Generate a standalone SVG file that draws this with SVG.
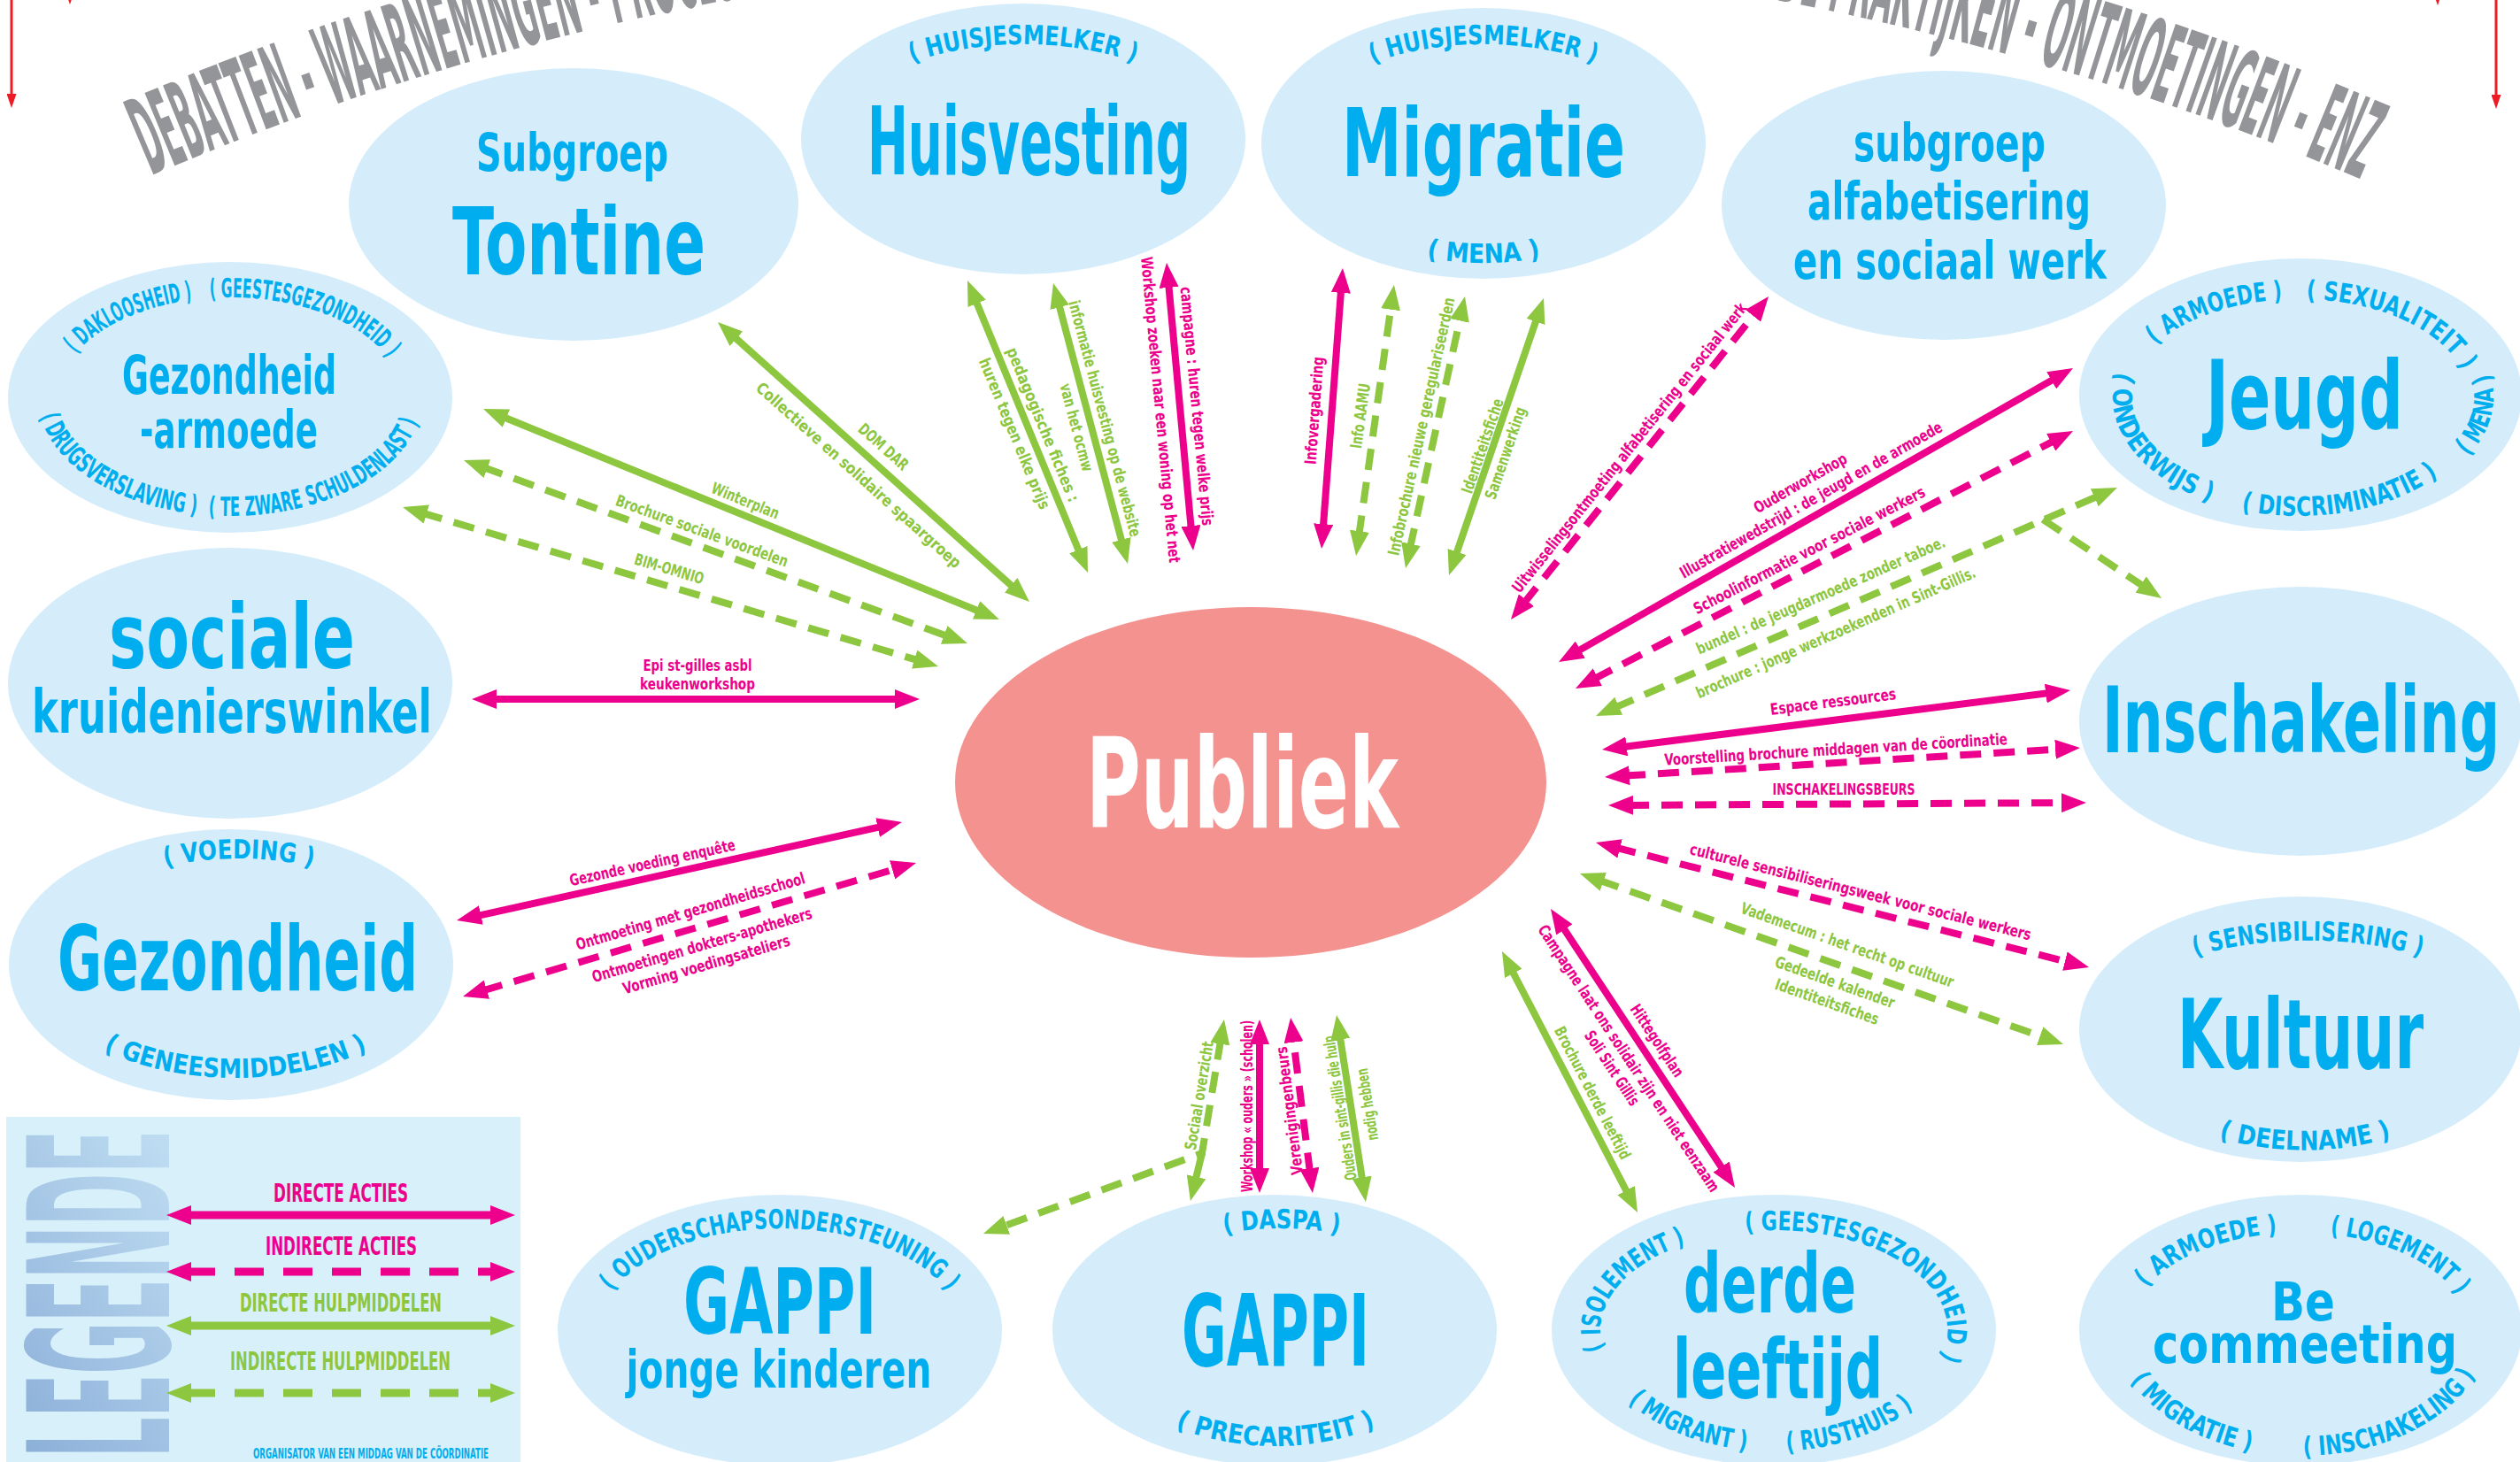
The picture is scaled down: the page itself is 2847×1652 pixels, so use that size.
<svg xmlns="http://www.w3.org/2000/svg" width="2847" height="1652" viewBox="0 0 2847 1652">
<style>
.nd{fill:#d5edfa}
.t{font-family:"Liberation Sans Narrow","DejaVu Sans Condensed","Liberation Sans",sans-serif;font-weight:bold}
.m{text-anchor:middle}
.cy{fill:#00aeef}
.rg{font-size:30px;fill:#00aeef}
.lm{fill:#ec008c;font-size:18px;text-anchor:middle}
.lg{fill:#8dc63f;font-size:18px;text-anchor:middle}
.am{stroke:#ec008c;stroke-width:8;fill:none;marker-start:url(#hM);marker-end:url(#hM)}
.ag{stroke:#8dc63f;stroke-width:8;fill:none;marker-start:url(#hG);marker-end:url(#hG)}
.d{stroke-dasharray:24 14}
.ar{stroke:#ed1c24;stroke-width:3;fill:none;marker-end:url(#hR)}
</style>
<defs>
<marker id="hM" markerUnits="userSpaceOnUse" viewBox="0 0 28 22" markerWidth="28" markerHeight="22" refX="6" refY="11" orient="auto-start-reverse"><path d="M0,0 L28,11 L0,22 Z" fill="#ec008c"/></marker>
<marker id="hG" markerUnits="userSpaceOnUse" viewBox="0 0 28 22" markerWidth="28" markerHeight="22" refX="6" refY="11" orient="auto-start-reverse"><path d="M0,0 L28,11 L0,22 Z" fill="#8dc63f"/></marker>
<marker id="hR" markerUnits="userSpaceOnUse" viewBox="0 0 16 11" markerWidth="16" markerHeight="11" refX="4" refY="5.5" orient="auto"><path d="M0,0 L16,5.5 L0,11 Z" fill="#ed1c24"/></marker>
<linearGradient id="lgd" x1="0" y1="0" x2="1" y2="1"><stop offset="0" stop-color="#86aad6"/><stop offset="1" stop-color="#c6e3f5"/></linearGradient>
<path id="hdr" d="M -169 368.2 A 3166 3166 0 0 1 2997 368.2"/>
<path id="p1" d="M1024.9,72.7 A213,107 0 0 1 1287.1,72.7"/>
<path id="p2" d="M1544.9,73.7 A213,112 0 0 1 1807.1,73.7"/>
<path id="p3" d="M1610,290.5 A213,133 0 0 0 1742,290.5"/>
<path id="p4" d="M85.1,400.2 A194,113 0 0 1 218,338.7"/>
<path id="p5" d="M236,336.9 A194,113 0 0 1 439.1,405.6"/>
<path id="p6" d="M45.1,467.6 A217,134 0 0 0 224.2,581.2"/>
<path id="p7" d="M233.2,582 A217,134 0 0 0 473,474.6"/>
<path id="p8" d="M188,979 A213,115 0 0 1 352,979"/>
<path id="p9" d="M114,1185 A230,132 0 0 0 418,1185"/>
<path id="p10" d="M2434,390.3 A192,111 0 0 1 2579.9,338.4"/>
<path id="p11" d="M2605,338.1 A192,111 0 0 1 2782,419.3"/>
<path id="p12" d="M2393.2,416.6 A210,134 0 0 0 2500,567.9"/>
<path id="p13" d="M2530,576 A210,134 0 0 0 2756,536.6"/>
<path id="p14" d="M2787.5,516 A220,134 0 0 0 2812.2,421.1"/>
<path id="p15" d="M2482,1080 A223,100 0 0 1 2733,1080"/>
<path id="p16" d="M2505,1285 A223,140 0 0 0 2703,1285"/>
<path id="p17" d="M1812.3,1526.5 A196,113 0 0 1 1906,1405.1"/>
<path id="p18" d="M1968,1391.9 A196,113 0 0 1 2190,1538.7"/>
<path id="p19" d="M1837.9,1582.6 A204,137 0 0 0 1974.9,1638.6"/>
<path id="p20" d="M2016.1,1639.8 A204,137 0 0 0 2163,1588.9"/>
<path id="p21" d="M2423,1456.5 A192,110 0 0 1 2574.9,1393.7"/>
<path id="p22" d="M2630,1394.6 A192,110 0 0 1 2777.4,1465.4"/>
<path id="p23" d="M2406,1557.3 A210,142 0 0 0 2544.9,1640"/>
<path id="p24" d="M2600,1645 A210,142 0 0 0 2797.3,1551.6"/>
<path id="p25" d="M688.4,1463.7 A205,115 0 0 1 1073.6,1463.7"/>
<path id="p26" d="M1383,1394 A205,115 0 0 1 1513,1394"/>
<path id="p27" d="M1325,1611 A205,131 0 0 0 1557,1611"/>
</defs>
<rect width="2847" height="1652" fill="#ffffff"/>
<g id="header">
<text class="t" fill="#939598" font-size="122"><textPath href="#hdr" startOffset="380" textLength="763" lengthAdjust="spacingAndGlyphs">DEBATTEN - WAARNEMINGEN - PROCESSEN</textPath></text>
<text class="t" fill="#939598" font-size="122"><textPath href="#hdr" startOffset="2180" textLength="766" lengthAdjust="spacingAndGlyphs">GOEDE PRAKTIJKEN - ONTMOETINGEN - ENZ</textPath></text>
</g>
<g id="node-tontine">
<ellipse class="nd" cx="648" cy="231" rx="254" ry="154"/>
<text class="t cy m" x="646.5" y="193" font-size="58" textLength="217" lengthAdjust="spacingAndGlyphs">Subgroep</text>
<text class="t cy m" x="654" y="310" font-size="105" textLength="286" lengthAdjust="spacingAndGlyphs">Tontine</text>
</g>
<g id="node-huisvesting">
<ellipse class="nd" cx="1156" cy="157" rx="251" ry="153"/>
<text class="t rg"><textPath href="#p1" startOffset="50%" text-anchor="middle" textLength="256" lengthAdjust="spacingAndGlyphs">( HUISJESMELKER )</textPath></text>
<text class="t cy m" x="1162.5" y="197" font-size="107" textLength="365" lengthAdjust="spacingAndGlyphs">Huisvesting</text>
</g>
<g id="node-migratie">
<ellipse class="nd" cx="1676" cy="162" rx="251" ry="153"/>
<text class="t rg"><textPath href="#p2" startOffset="50%" text-anchor="middle" textLength="256" lengthAdjust="spacingAndGlyphs">( HUISJESMELKER )</textPath></text>
<text class="t rg"><textPath href="#p3" startOffset="50%" text-anchor="middle" textLength="130" lengthAdjust="spacingAndGlyphs">( MENA )</textPath></text>
<text class="t cy m" x="1676" y="199" font-size="107" textLength="320" lengthAdjust="spacingAndGlyphs">Migratie</text>
</g>
<g id="node-alfabetisering">
<ellipse class="nd" cx="2196" cy="232" rx="251" ry="152"/>
<text class="t cy m" x="2202.5" y="182" font-size="58" textLength="217" lengthAdjust="spacingAndGlyphs">subgroep</text>
<text class="t cy m" x="2202" y="248" font-size="58" textLength="320" lengthAdjust="spacingAndGlyphs">alfabetisering</text>
<text class="t cy m" x="2203" y="315" font-size="58" textLength="354" lengthAdjust="spacingAndGlyphs">en sociaal werk</text>
</g>
<g id="node-gezondheid-armoede">
<ellipse class="nd" cx="260" cy="449" rx="251" ry="153"/>
<text class="t rg"><textPath href="#p4" startOffset="50%" text-anchor="middle" textLength="148" lengthAdjust="spacingAndGlyphs">( DAKLOOSHEID )</textPath></text>
<text class="t rg"><textPath href="#p5" startOffset="50%" text-anchor="middle" textLength="220" lengthAdjust="spacingAndGlyphs">( GEESTESGEZONDHEID )</textPath></text>
<text class="t rg"><textPath href="#p6" startOffset="50%" text-anchor="middle" textLength="220" lengthAdjust="spacingAndGlyphs">( DRUGSVERSLAVING )</textPath></text>
<text class="t rg"><textPath href="#p7" startOffset="50%" text-anchor="middle" textLength="276" lengthAdjust="spacingAndGlyphs">( TE ZWARE SCHULDENLAST )</textPath></text>
<text class="t cy m" x="259" y="445" font-size="60" textLength="242" lengthAdjust="spacingAndGlyphs">Gezondheid</text>
<text class="t cy m" x="258.5" y="506" font-size="58" textLength="201" lengthAdjust="spacingAndGlyphs">-armoede</text>
</g>
<g id="node-sociale-kruidenierswinkel">
<ellipse class="nd" cx="260" cy="772" rx="251" ry="153"/>
<text class="t cy m" x="262" y="755" font-size="102" textLength="278" lengthAdjust="spacingAndGlyphs">sociale</text>
<text class="t cy m" x="262" y="828" font-size="68" textLength="452" lengthAdjust="spacingAndGlyphs">kruidenierswinkel</text>
</g>
<g id="node-gezondheid">
<ellipse class="nd" cx="261" cy="1090" rx="251" ry="153"/>
<text class="t rg"><textPath href="#p8" startOffset="50%" text-anchor="middle" textLength="168" lengthAdjust="spacingAndGlyphs">( VOEDING )</textPath></text>
<text class="t rg"><textPath href="#p9" startOffset="50%" text-anchor="middle" textLength="308" lengthAdjust="spacingAndGlyphs">( GENEESMIDDELEN )</textPath></text>
<text class="t cy m" x="268.5" y="1119" font-size="101" textLength="407" lengthAdjust="spacingAndGlyphs">Gezondheid</text>
</g>
<g id="node-jeugd">
<ellipse class="nd" cx="2599" cy="446" rx="250" ry="154"/>
<text class="t rg"><textPath href="#p10" startOffset="50%" text-anchor="middle" textLength="155" lengthAdjust="spacingAndGlyphs">( ARMOEDE )</textPath></text>
<text class="t rg"><textPath href="#p11" startOffset="50%" text-anchor="middle" textLength="202" lengthAdjust="spacingAndGlyphs">( SEXUALITEIT )</textPath></text>
<text class="t rg"><textPath href="#p12" startOffset="50%" text-anchor="middle" textLength="202" lengthAdjust="spacingAndGlyphs">( ONDERWIJS )</textPath></text>
<text class="t rg"><textPath href="#p13" startOffset="50%" text-anchor="middle" textLength="232" lengthAdjust="spacingAndGlyphs">( DISCRIMINATIE )</textPath></text>
<text class="t rg"><textPath href="#p14" startOffset="50%" text-anchor="middle" textLength="102" lengthAdjust="spacingAndGlyphs">( MENA )</textPath></text>
<text class="t cy m" x="2603.5" y="484" font-size="107" textLength="223" lengthAdjust="spacingAndGlyphs">Jeugd</text>
</g>
<g id="node-inschakeling">
<ellipse class="nd" cx="2599" cy="815" rx="250" ry="152"/>
<text class="t cy m" x="2599.5" y="850" font-size="104" textLength="449" lengthAdjust="spacingAndGlyphs">Inschakeling</text>
</g>
<g id="node-kultuur">
<ellipse class="nd" cx="2599" cy="1163" rx="250" ry="150"/>
<text class="t rg"><textPath href="#p15" startOffset="50%" text-anchor="middle" textLength="258" lengthAdjust="spacingAndGlyphs">( SENSIBILISERING )</textPath></text>
<text class="t rg"><textPath href="#p16" startOffset="50%" text-anchor="middle" textLength="198" lengthAdjust="spacingAndGlyphs">( DEELNAME )</textPath></text>
<text class="t cy m" x="2599" y="1207" font-size="108" textLength="278" lengthAdjust="spacingAndGlyphs">Kultuur</text>
</g>
<g id="node-be-commeeting">
<ellipse class="nd" cx="2599" cy="1503" rx="250" ry="153"/>
<text class="t rg"><textPath href="#p21" startOffset="50%" text-anchor="middle" textLength="164" lengthAdjust="spacingAndGlyphs">( ARMOEDE )</textPath></text>
<text class="t rg"><textPath href="#p22" startOffset="50%" text-anchor="middle" textLength="164" lengthAdjust="spacingAndGlyphs">( LOGEMENT )</textPath></text>
<text class="t rg"><textPath href="#p23" startOffset="50%" text-anchor="middle" textLength="162" lengthAdjust="spacingAndGlyphs">( MIGRATIE )</textPath></text>
<text class="t rg"><textPath href="#p24" startOffset="50%" text-anchor="middle" textLength="224" lengthAdjust="spacingAndGlyphs">( INSCHAKELING )</textPath></text>
<text class="t cy m" x="2602" y="1492" font-size="60" textLength="72" lengthAdjust="spacingAndGlyphs">Be</text>
<text class="t cy m" x="2604" y="1540" font-size="60" textLength="344" lengthAdjust="spacingAndGlyphs">commeeting</text>
</g>
<g id="node-derde-leeftijd">
<ellipse class="nd" cx="2004" cy="1503" rx="251" ry="153"/>
<text class="t rg"><textPath href="#p17" startOffset="50%" text-anchor="middle" textLength="168" lengthAdjust="spacingAndGlyphs">( ISOLEMENT )</textPath></text>
<text class="t rg"><textPath href="#p18" startOffset="50%" text-anchor="middle" textLength="312" lengthAdjust="spacingAndGlyphs">( GEESTESGEZONDHEID )</textPath></text>
<text class="t rg"><textPath href="#p19" startOffset="50%" text-anchor="middle" textLength="147" lengthAdjust="spacingAndGlyphs">( MIGRANT )</textPath></text>
<text class="t rg"><textPath href="#p20" startOffset="50%" text-anchor="middle" textLength="154" lengthAdjust="spacingAndGlyphs">( RUSTHUIS )</textPath></text>
<text class="t cy m" x="1999.5" y="1483" font-size="92" textLength="195" lengthAdjust="spacingAndGlyphs">derde</text>
<text class="t cy m" x="2008.5" y="1580" font-size="92" textLength="237" lengthAdjust="spacingAndGlyphs">leeftijd</text>
</g>
<g id="node-gappi-jonge-kinderen">
<ellipse class="nd" cx="881" cy="1503" rx="251" ry="153"/>
<text class="t rg"><textPath href="#p25" startOffset="50%" text-anchor="middle" textLength="418" lengthAdjust="spacingAndGlyphs">( OUDERSCHAPSONDERSTEUNING )</textPath></text>
<text class="t cy m" x="881" y="1507" font-size="104" textLength="218" lengthAdjust="spacingAndGlyphs">GAPPI</text>
<text class="t cy m" x="880" y="1568" font-size="58" textLength="345" lengthAdjust="spacingAndGlyphs">jonge kinderen</text>
</g>
<g id="node-gappi-daspa">
<ellipse class="nd" cx="1440" cy="1503" rx="251" ry="153"/>
<text class="t rg"><textPath href="#p26" startOffset="50%" text-anchor="middle" textLength="130" lengthAdjust="spacingAndGlyphs">( DASPA )</textPath></text>
<text class="t rg"><textPath href="#p27" startOffset="50%" text-anchor="middle" textLength="232" lengthAdjust="spacingAndGlyphs">( PRECARITEIT )</textPath></text>
<text class="t cy m" x="1441" y="1543" font-size="112" textLength="212" lengthAdjust="spacingAndGlyphs">GAPPI</text>
</g>
<g id="node-publiek">
<ellipse cx="1413" cy="884" rx="334" ry="198" fill="#f4928f"/>
<text class="t m" x="1403.5" y="935" font-size="140" fill="#ffffff" textLength="353" lengthAdjust="spacingAndGlyphs">Publiek</text>
</g>
<g id="legend">
<rect x="7" y="1262" width="581" height="390" fill="#d7f0fa"/>
<text class="t" transform="translate(191,1647) rotate(-90)" font-size="222" fill="url(#lgd)" textLength="370" lengthAdjust="spacingAndGlyphs">LEGENDE</text>
<text class="t m" x="385" y="1358" font-size="28" fill="#ec008c" textLength="152" lengthAdjust="spacingAndGlyphs">DIRECTE ACTIES</text>
<path d="M210,1373 L560,1373" stroke="#ec008c" stroke-width="9" fill="none" marker-start="url(#hM)" marker-end="url(#hM)"/>
<text class="t m" x="385.5" y="1418" font-size="28" fill="#ec008c" textLength="171" lengthAdjust="spacingAndGlyphs">INDIRECTE ACTIES</text>
<path d="M210,1437 L560,1437" stroke="#ec008c" stroke-width="9" fill="none" stroke-dasharray="33 22" marker-start="url(#hM)" marker-end="url(#hM)"/>
<text class="t m" x="385" y="1482" font-size="28" fill="#8dc63f" textLength="228" lengthAdjust="spacingAndGlyphs">DIRECTE HULPMIDDELEN</text>
<path d="M210,1498 L560,1498" stroke="#8dc63f" stroke-width="9" fill="none" marker-start="url(#hG)" marker-end="url(#hG)"/>
<text class="t m" x="384.5" y="1548" font-size="28" fill="#8dc63f" textLength="249" lengthAdjust="spacingAndGlyphs">INDIRECTE HULPMIDDELEN</text>
<path d="M210,1574 L560,1574" stroke="#8dc63f" stroke-width="9" fill="none" stroke-dasharray="33 22" marker-start="url(#hG)" marker-end="url(#hG)"/>
<text class="t m" x="419" y="1648" font-size="15" fill="#00aeef" textLength="266" lengthAdjust="spacingAndGlyphs">ORGANISATOR VAN EEN MIDDAG VAN DE CÖORDINATIE</text>
</g>
<g id="connectors">
<path class="ar" d="M13,-20 L13,110"/>
<path class="ar" d="M79,-30 L79,-7"/>
<path class="ar" d="M2820,-20 L2820,111"/>
<path class="ar" d="M2754,-30 L2754,-6"/>
<path class="ag" d="M566.4,470.3 L1108.6,691.7"/>
<path class="ag d" d="M544.7,527.5 L1072.3,719.5"/>
<path class="ag d" d="M476.1,579.3 L1038.9,746.7"/>
<path class="ag" d="M827.4,378.7 L1146.6,665.3"/>
<path class="ag" d="M1101.4,337.3 L1220.6,626.7"/>
<path class="ag" d="M1195.6,341.3 L1268.4,615.7"/>
<path class="am" d="M1320,318.9 L1346,600.1"/>
<path class="am" d="M1494.7,598.1 L1515.3,324.9"/>
<path class="ag d" d="M1535.1,606.2 L1571.9,343.8"/>
<path class="ag d" d="M1592.7,620.5 L1650.3,356.5"/>
<path class="ag" d="M1644.1,629.2 L1736.9,357.8"/>
<path class="am d" d="M1720.7,682.8 L1984.3,352.2"/>
<path class="am" d="M1780.1,737.1 L2322.9,426.9"/>
<path class="am d" d="M1799.5,767.9 L2322.5,497.1"/>
<path class="ag d" d="M1823.2,800.2 L2371.8,559.8"/>
<path d="M2308,587 L2423.7,663.8" stroke="#8dc63f" stroke-width="8" fill="none" stroke-dasharray="24 14" marker-end="url(#hG)"/>
<path class="am" d="M1831.8,844.2 L2317.2,782.8"/>
<path class="am d" d="M1835,876.6 L2328,846.4"/>
<path class="am d" d="M1839,909.9 L2335,907.1"/>
<path class="am d" d="M1824.3,957.4 L2338.7,1087.6"/>
<path class="ag d" d="M1805.7,994.3 L2310.3,1172.7"/>
<path class="am" d="M1764.1,1045.4 L1947.9,1323.6"/>
<path class="ag" d="M1707.1,1094.5 L1839.9,1350.5"/>
<path class="ag d" d="M1379.4,1173.7 L1358,1303 L1131.6,1386.4"/>
<path d="M1358,1303 L1350.1,1335.6" stroke="#8dc63f" stroke-width="8" fill="none" marker-end="url(#hG)"/>
<path class="am" d="M1423,1326 L1423,1174"/>
<path class="am d" d="M1480.2,1326.2 L1460.8,1171.8"/>
<path class="ag" d="M1539.6,1336.3 L1513.4,1168.7"/>
<path class="am" d="M537.5,1035.3 L997.5,933.7"/>
<path class="am d" d="M544.1,1119.8 L1013.9,981.2"/>
<path class="am" d="M555,790 L1017,790"/>
<g id="connector-labels">
<text class="t lg" transform="translate(842,566) rotate(22.2)" y="6" textLength="81" lengthAdjust="spacingAndGlyphs">Winterplan</text>
<text class="t lg" transform="translate(793,600) rotate(20)" y="6" textLength="206" lengthAdjust="spacingAndGlyphs">Brochure sociale voordelen</text>
<text class="t lg" transform="translate(756,643) rotate(16.6)" y="6" textLength="81" lengthAdjust="spacingAndGlyphs">BIM-OMNIO</text>
<text class="t lg" transform="translate(998,505) rotate(41.9)" y="6" textLength="69" lengthAdjust="spacingAndGlyphs">DOM DAR</text>
<text class="t lg" transform="translate(970,537) rotate(41.9)" y="6" textLength="304" lengthAdjust="spacingAndGlyphs">Collectieve en solidaire spaargroep</text>
<text class="t lg" transform="translate(1178,480) rotate(67.6)" y="6" textLength="187" lengthAdjust="spacingAndGlyphs">pedagogische fiches :</text>
<text class="t lg" transform="translate(1146,490) rotate(67.6)" y="6" textLength="183" lengthAdjust="spacingAndGlyphs">huren tegen elke prijs</text>
<text class="t lg" transform="translate(1248,473) rotate(75.2)" y="6" textLength="275" lengthAdjust="spacingAndGlyphs">informatie huisvesting op de website</text>
<text class="t lg" transform="translate(1216,483) rotate(75.2)" y="6" textLength="102" lengthAdjust="spacingAndGlyphs">van het ocmw</text>
<text class="t lm" transform="translate(1352,459) rotate(84.7)" y="6" textLength="271" lengthAdjust="spacingAndGlyphs">campagne : huren tegen welke prijs</text>
<text class="t lm" transform="translate(1311,463) rotate(84.7)" y="6" textLength="347" lengthAdjust="spacingAndGlyphs">Workshop zoeken naar een woning op het net</text>
<text class="t lm" transform="translate(1485,464) rotate(-85.7)" y="6" textLength="122" lengthAdjust="spacingAndGlyphs">Infovergadering</text>
<text class="t lg" transform="translate(1537,470) rotate(-82)" y="6" textLength="74" lengthAdjust="spacingAndGlyphs">Info AAMU</text>
<text class="t lg" transform="translate(1606,482) rotate(-77.7)" y="6" textLength="298" lengthAdjust="spacingAndGlyphs">Infobrochure nieuwe geregulariseerden</text>
<text class="t lg" transform="translate(1675,504) rotate(-71.1)" y="6" textLength="112" lengthAdjust="spacingAndGlyphs">Identiteitsfiche</text>
<text class="t lg" transform="translate(1701,512) rotate(-71.1)" y="6" textLength="109" lengthAdjust="spacingAndGlyphs">Samenwerking</text>
<text class="t lm" transform="translate(1841,506) rotate(-51.4)" y="6" textLength="413" lengthAdjust="spacingAndGlyphs">Uitwisselingsontmoeting alfabetisering en sociaal werk</text>
<text class="t lm" transform="translate(2034,546) rotate(-29.7)" y="6" textLength="118" lengthAdjust="spacingAndGlyphs">Ouderworkshop</text>
<text class="t lm" transform="translate(2046,565) rotate(-29.7)" y="6" textLength="338" lengthAdjust="spacingAndGlyphs">Illustratiewedstrijd : de jeugd en de armoede</text>
<text class="t lm" transform="translate(2044,622) rotate(-27.4)" y="6" textLength="292" lengthAdjust="spacingAndGlyphs">Schoolinformatie voor sociale werkers</text>
<text class="t lg" transform="translate(2057,673) rotate(-23.7)" y="6" textLength="305" lengthAdjust="spacingAndGlyphs">bundel : de jeugdarmoede zonder taboe.</text>
<text class="t lg" transform="translate(2074,715) rotate(-23.7)" y="6" textLength="343" lengthAdjust="spacingAndGlyphs">brochure : jonge werkzoekenden in Sint-Gillis.</text>
<text class="t lm" transform="translate(2071,793) rotate(-7.2)" y="6" textLength="143" lengthAdjust="spacingAndGlyphs">Espace ressources</text>
<text class="t lm" transform="translate(2074,847) rotate(-3.5)" y="6" textLength="388" lengthAdjust="spacingAndGlyphs">Voorstelling brochure middagen van de cöordinatie</text>
<text class="t lm" transform="translate(2083,892)" y="6" textLength="161" lengthAdjust="spacingAndGlyphs">INSCHAKELINGSBEURS</text>
<text class="t lm" transform="translate(2102,1008) rotate(14.2)" y="6" textLength="397" lengthAdjust="spacingAndGlyphs">culturele sensibiliseringsweek voor sociale werkers</text>
<text class="t lg" transform="translate(2087,1068) rotate(19.5)" y="6" textLength="254" lengthAdjust="spacingAndGlyphs">Vademecum : het recht op cultuur</text>
<text class="t lg" transform="translate(2073,1110) rotate(19.5)" y="6" textLength="142" lengthAdjust="spacingAndGlyphs">Gedeelde kalender</text>
<text class="t lg" transform="translate(2064,1132) rotate(19.5)" y="6" textLength="123" lengthAdjust="spacingAndGlyphs">Identiteitsfiches</text>
<text class="t lm" transform="translate(1872,1176) rotate(56.6)" y="6" textLength="94" lengthAdjust="spacingAndGlyphs">Hittegolfplan</text>
<text class="t lm" transform="translate(1840,1196) rotate(56.6)" y="6" textLength="357" lengthAdjust="spacingAndGlyphs">Campagne laat ons solidair zijn en niet eenzaam</text>
<text class="t lm" transform="translate(1821,1207) rotate(56.6)" y="6" textLength="97" lengthAdjust="spacingAndGlyphs">Soli Sint Gillis</text>
<text class="t lg" transform="translate(1799,1235) rotate(62.6)" y="6" textLength="166" lengthAdjust="spacingAndGlyphs">Brochure derde leeftijd</text>
<text class="t lg" transform="translate(1355,1238) rotate(-80.6)" y="6" textLength="124" lengthAdjust="spacingAndGlyphs">Sociaal overzicht</text>
<text class="t lm" transform="translate(1409,1250) rotate(-90)" y="6" textLength="194" lengthAdjust="spacingAndGlyphs">Workshop « ouders » (scholen)</text>
<text class="t lm" transform="translate(1457,1255) rotate(-97.2)" y="6" textLength="146" lengthAdjust="spacingAndGlyphs">Verenigingenbeurs</text>
<text class="t lg" transform="translate(1514,1252) rotate(-98.9)" y="6" textLength="165" lengthAdjust="spacingAndGlyphs">Ouders in sint-gillis die hulp</text>
<text class="t lg" transform="translate(1545,1248) rotate(-98.9)" y="6" textLength="82" lengthAdjust="spacingAndGlyphs">nodig hebben</text>
<text class="t lm" transform="translate(737,975) rotate(-12.4)" y="6" textLength="191" lengthAdjust="spacingAndGlyphs">Gezonde voeding enquête</text>
<text class="t lm" transform="translate(780,1030) rotate(-16.4)" y="6" textLength="269" lengthAdjust="spacingAndGlyphs">Ontmoeting met gezondheidsschool</text>
<text class="t lm" transform="translate(793,1068) rotate(-16.4)" y="6" textLength="258" lengthAdjust="spacingAndGlyphs">Ontmoetingen dokters-apothekers</text>
<text class="t lm" transform="translate(798,1090) rotate(-16.4)" y="6" textLength="196" lengthAdjust="spacingAndGlyphs">Vorming voedingsateliers</text>
<text class="t lm" transform="translate(788,752)" y="6" textLength="123" lengthAdjust="spacingAndGlyphs">Epi st-gilles asbl</text>
<text class="t lm" transform="translate(788,773)" y="6" textLength="130" lengthAdjust="spacingAndGlyphs">keukenworkshop</text>
</g>
</g>
</svg>
